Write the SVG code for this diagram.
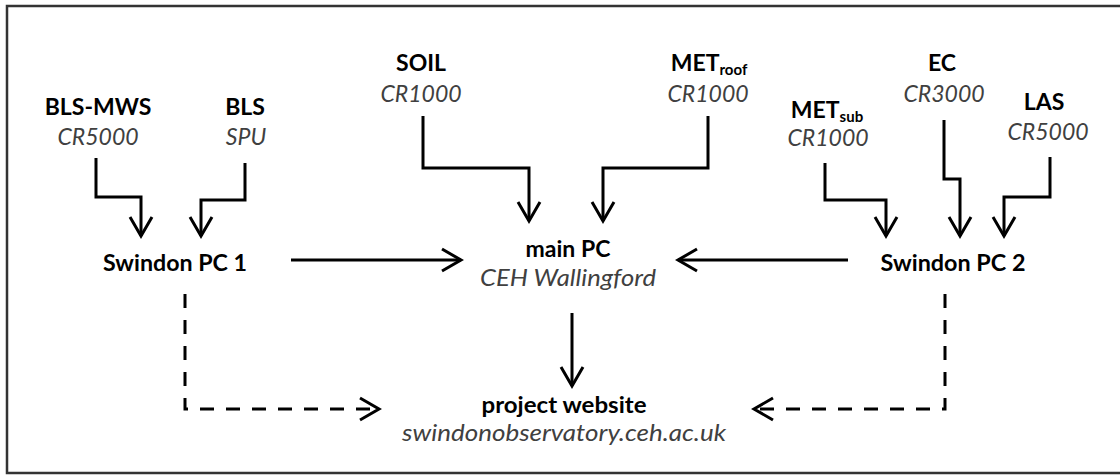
<svg xmlns="http://www.w3.org/2000/svg" width="1120" height="475" viewBox="0 0 1120 475">
<defs>
<style>
.t{font-family:Lato,"Liberation Sans",sans-serif;font-weight:bold;font-size:23px;fill:#000;text-anchor:middle}
.s{font-family:Lato,"Liberation Sans",sans-serif;font-style:italic;font-size:23px;fill:#404040;text-anchor:middle}
.sub{font-size:15px}
.c{fill:none;stroke:#000;stroke-width:3}
.d{stroke-dasharray:14 12}
</style>
<marker id="ah" markerUnits="userSpaceOnUse" viewBox="-23 -14 26 28" markerWidth="26" markerHeight="28" refX="0" refY="0" orient="auto">
<path d="M-19,-11 L0,0 L-19,11" fill="none" stroke="#000" stroke-width="3" stroke-dasharray="none"/>
</marker>
</defs>
<rect width="1120" height="475" fill="#fff"/>
<path d="M1120,6 H7 V473 H1120" fill="none" stroke="#333" stroke-width="2.5"/>

<g id="connectors">
<path class="c" d="M96,158 V197 H141 V236" marker-end="url(#ah)"/>
<path class="c" d="M245,163 V200 H201 V236" marker-end="url(#ah)"/>
<path class="c" d="M423,116 V168 H529 V221" marker-end="url(#ah)"/>
<path class="c" d="M708,116 V168 H603 V221" marker-end="url(#ah)"/>
<path class="c" d="M825,163 V200 H886 V236" marker-end="url(#ah)"/>
<path class="c" d="M944,120 V179 H960 V236" marker-end="url(#ah)"/>
<path class="c" d="M1050,157 V197 H1004 V236" marker-end="url(#ah)"/>
<path class="c" d="M291,260 H461" marker-end="url(#ah)"/>
<path class="c" d="M848,260 H678" marker-end="url(#ah)"/>
<path class="c" d="M572,313 V386" marker-end="url(#ah)"/>
<path class="c d" d="M185,294 V409 H379" marker-end="url(#ah)"/>
<path class="c d" d="M945,294 V409 H754" marker-end="url(#ah)"/>
</g>

<g id="n-blsmws"><text class="t" x="98" y="115">BLS-MWS</text><text class="s" x="98" y="145">CR5000</text></g>
<g id="n-bls"><text class="t" x="245" y="115">BLS</text><text class="s" x="246" y="145">SPU</text></g>
<g id="n-soil"><text class="t" x="421" y="71">SOIL</text><text class="s" x="421" y="102">CR1000</text></g>
<g id="n-metroof"><text class="t" x="709" y="71">MET<tspan class="sub" dy="4">roof</tspan></text><text class="s" x="708" y="102">CR1000</text></g>
<g id="n-metsub"><text class="t" x="827" y="118">MET<tspan class="sub" dy="4">sub</tspan></text><text class="s" x="828" y="146">CR1000</text></g>
<g id="n-ec"><text class="t" x="942" y="71">EC</text><text class="s" x="944" y="102">CR3000</text></g>
<g id="n-las"><text class="t" x="1044" y="110">LAS</text><text class="s" x="1048" y="140">CR5000</text></g>
<g id="n-pc1"><text class="t" x="175" y="271" textLength="144" lengthAdjust="spacingAndGlyphs">Swindon PC 1</text></g>
<g id="n-main"><text class="t" x="568" y="257">main PC</text><text class="s" x="568" y="286" textLength="176" lengthAdjust="spacingAndGlyphs">CEH Wallingford</text></g>
<g id="n-pc2"><text class="t" x="953" y="271" textLength="145" lengthAdjust="spacingAndGlyphs">Swindon PC 2</text></g>
<g id="n-web"><text class="t" x="564" y="413" textLength="165" lengthAdjust="spacingAndGlyphs">project website</text><text class="s" x="564" y="441" textLength="324" lengthAdjust="spacingAndGlyphs">swindonobservatory.ceh.ac.uk</text></g>
</svg>
